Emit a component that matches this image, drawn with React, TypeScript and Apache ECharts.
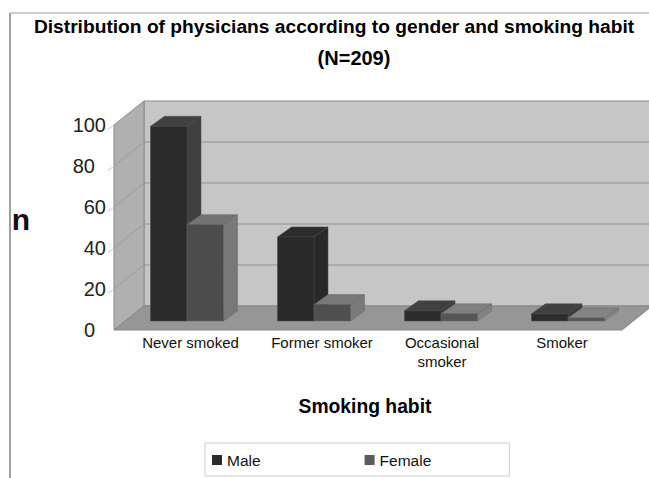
import React, { useEffect, useRef } from "react";
import * as echarts from "echarts";

const categories = ["Never smoked", "Former smoker", "Occasional\nsmoker", "Smoker"];
const male = [95, 41, 5, 3.5];
const female = [47, 8, 3.5, 1.5];
const yTicks = [0, 20, 40, 60, 80, 100];
const seriesNames = ["Male", "Female"];
const titleLines = ["Distribution of physicians according to gender and smoking habit", "(N=209)"];
const FONT = '"Liberation Sans", Arial, sans-serif';

// Left padding per category label: the reference's labels are not evenly spaced
const labelPadding = [26, 35, 21, 7];

// Oblique projection used to fake the 3D look (pixels)
const WALL_DEPTH = { x: 30, y: -24 };
const BAR_SHIFT = { x: 9.5, y: -9 };
const BAR_DEPTH = { x: 14, y: -10 };
const BAR_FRACTION = 0.2874;

type Face = { front: string; top: string; side: string };

function wallsRenderItem(_params: any, api: any) {
  const band = api.size([1, 0])[0];
  const x0 = api.coord([0, 0])[0] - band / 2;
  const x1 = api.coord([categories.length - 1, 0])[0] + band / 2;
  const yAt = (v: number) => api.coord([0, v])[1];
  const y0 = yAt(0);
  const yT = yAt(100);
  const d = WALL_DEPTH;
  const children: any[] = [
    {
      type: "polygon",
      shape: { points: [[x0 + d.x, yT + d.y], [x1 + d.x, yT + d.y], [x1 + d.x, y0 + d.y], [x0 + d.x, y0 + d.y]] },
      style: { fill: "#c6c6c6", stroke: "#8a8a8a", lineWidth: 1 },
    },
    {
      type: "polygon",
      shape: { points: [[x0, yT], [x0 + d.x, yT + d.y], [x0 + d.x, y0 + d.y], [x0, y0]] },
      style: { fill: "#b0b0b0", stroke: "#8a8a8a", lineWidth: 1 },
    },
    {
      type: "polygon",
      shape: { points: [[x0, y0], [x1, y0], [x1 + d.x, y0 + d.y], [x0 + d.x, y0 + d.y]] },
      style: { fill: "#969696", stroke: "#858585", lineWidth: 1 },
    },
  ];
  yTicks.forEach((v) => {
    const y = yAt(v);
    if (v > 0 && v < 100) {
      children.push({
        type: "line",
        shape: { x1: x0 + d.x, y1: y + d.y, x2: x1 + d.x, y2: y + d.y },
        style: { stroke: "#919191", lineWidth: 1 },
      });
      children.push({
        type: "line",
        shape: { x1: x0 + d.x, y1: y + d.y, x2: x0, y2: y },
        style: { stroke: "#9c9c9c", lineWidth: 1 },
      });
    }
    if (v > 0) {
      children.push({
        type: "line",
        shape: { x1: x0, y1: y, x2: x0 - 6, y2: y + 4.5 },
        style: { stroke: "#c8c8c8", lineWidth: 1 },
      });
    }
  });
  return { type: "group", children };
}

function barRenderItem(side: -1 | 1, faces: Face[], edgeColor: string) {
  return (params: any, api: any) => {
    const i = api.value(0);
    const band = api.size([1, 0])[0];
    const w = band * BAR_FRACTION;
    const base = api.coord([i, 0]);
    const top = api.coord([i, api.value(1)]);
    const cx = base[0] + BAR_SHIFT.x;
    const l = side < 0 ? cx - w : cx;
    const r = side < 0 ? cx : cx + w;
    const yb = base[1] + BAR_SHIFT.y;
    const yt = top[1] + BAR_SHIFT.y;
    const d = BAR_DEPTH;
    const f = faces[params.dataIndex];
    const edge = { stroke: edgeColor, lineWidth: 0.5 };
    return {
      type: "group",
      children: [
        {
          type: "polygon",
          shape: { points: [[r, yt], [r + d.x, yt + d.y], [r + d.x, yb + d.y], [r, yb]] },
          style: { fill: f.side, ...edge },
        },
        {
          type: "polygon",
          shape: { points: [[l, yt], [r, yt], [r + d.x, yt + d.y], [l + d.x, yt + d.y]] },
          style: { fill: f.top, ...edge },
        },
        {
          type: "polygon",
          shape: { points: [[l, yt], [r, yt], [r, yb], [l, yb]] },
          style: { fill: f.front, ...edge },
        },
      ],
    };
  };
}

const maleFaces: Face[] = [
  { front: "#2a2a2a", top: "#414141", side: "#3f3f3f" },
  { front: "#292929", top: "#2c2c2c", side: "#282828" },
  { front: "#2c2c2c", top: "#404040", side: "#3a3a3a" },
  { front: "#2c2c2c", top: "#404040", side: "#3a3a3a" },
];
const femaleFaces: Face[] = [
  { front: "#4c4c4c", top: "#737373", side: "#787878" },
  { front: "#4f4f4f", top: "#787878", side: "#7a7a7a" },
  { front: "#555555", top: "#808080", side: "#828282" },
  { front: "#555555", top: "#848484", side: "#868686" },
];

export default function App() {
  const ref = useRef<HTMLDivElement>(null);
  useEffect(() => {
    const chart = echarts.init(ref.current!, null, { renderer: "svg" });
    const titleStyle = { fontFamily: FONT, fontWeight: "bold", fontSize: 19.2, color: "#000000" };
    chart.setOption({
      animation: false,
      backgroundColor: "#ffffff",
      textStyle: { fontFamily: FONT },
      title: [
        { text: titleLines[0], left: 334, top: 17, textAlign: "center", textStyle: titleStyle, padding: 0 },
        { text: titleLines[1], left: 354, top: 48, textAlign: "center", textStyle: { ...titleStyle, fontSize: 20 }, padding: 0 },
      ],
      grid: { left: 114, right: 27, top: 125, bottom: 148 },
      xAxis: {
        type: "category",
        data: categories.map((value, i) => ({
          value,
          textStyle: { padding: [0, 0, 0, labelPadding[i]] },
        })),
        name: "Smoking habit",
        nameLocation: "middle",
        nameGap: 67,
        nameTextStyle: {
          fontFamily: FONT,
          fontWeight: "bold",
          fontSize: 19.3,
          color: "#000000",
          padding: [0, 6, 0, 0],
        },
        axisLine: { show: false },
        axisTick: { show: false },
        axisLabel: {
          interval: 0,
          margin: 3,
          fontFamily: FONT,
          fontSize: 15,
          lineHeight: 19,
          color: "#111111",
        },
      },
      yAxis: {
        type: "value",
        min: 0,
        max: 100,
        interval: 20,
        name: "n",
        nameLocation: "middle",
        nameRotate: 0,
        nameGap: 84,
        nameTextStyle: {
          fontFamily: FONT,
          fontWeight: "bold",
          fontSize: 30,
          lineHeight: 16,
          verticalAlign: "bottom",
          color: "#111111",
        },
        splitLine: { show: false },
        axisLine: { show: false },
        axisTick: { show: false },
        axisLabel: {
          margin: 8,
          fontFamily: FONT,
          fontSize: 20,
          color: "#222222",
          formatter: (v: number) => (v === 0 || v === 80 ? `{n|${v}}` : `${v}`),
          rich: { n: { fontFamily: FONT, fontSize: 20, color: "#222222", padding: [0, 11, 0, 0] } },
        },
      },
      legend: {
        data: seriesNames,
        left: 205,
        top: 443,
        orient: "horizontal",
        icon: "rect",
        itemWidth: 10,
        itemHeight: 10,
        itemGap: 104,
        padding: [9, 78, 8, 7],
        borderColor: "#cccccc",
        borderWidth: 1,
        textStyle: { fontFamily: FONT, fontSize: 15.5, color: "#111111" },
      },
      graphic: [
        { type: "line", shape: { x1: 10, y1: 13, x2: 10, y2: 478 }, style: { stroke: "#808080", lineWidth: 1.5 } },
        { type: "line", shape: { x1: 10, y1: 13, x2: 649, y2: 13 }, style: { stroke: "#9a9a9a", lineWidth: 1 } },
      ],
      series: [
        {
          name: "walls",
          type: "custom",
          silent: true,
          z: 1,
          renderItem: wallsRenderItem,
          data: [[0, 0]],
          encode: { x: 0, y: 1 },
        },
        {
          name: seriesNames[0],
          type: "custom",
          z: 2,
          itemStyle: { color: "#2a2a2a" },
          renderItem: barRenderItem(-1, maleFaces, "#484848"),
          data: male.map((v, i) => [i, v]),
          encode: { x: 0, y: 1 },
        },
        {
          name: seriesNames[1],
          type: "custom",
          z: 3,
          itemStyle: { color: "#5a5a5a" },
          renderItem: barRenderItem(1, femaleFaces, "#666666"),
          data: female.map((v, i) => [i, v]),
          encode: { x: 0, y: 1 },
        },
      ],
    });
    return () => chart.dispose();
  }, []);
  return <div ref={ref} style={{ position: "absolute", left: 0, top: 0, width: 649, height: 478 }} />;
}
